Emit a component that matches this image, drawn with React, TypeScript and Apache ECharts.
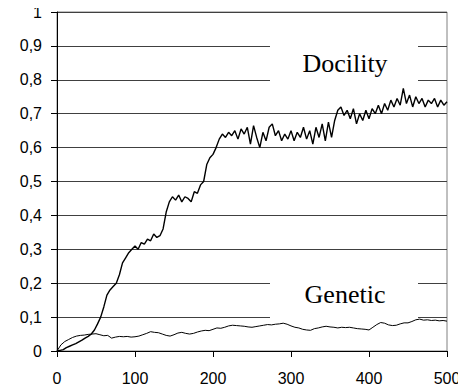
import React, { useEffect, useRef } from "react";
import * as echarts from "echarts";

// Docility series, sampled every 4 generations (0..500)
const docilityStep = 4;
const docility = [
  0, 0.002, 0.004, 0.01, 0.014, 0.018, 0.022, 0.027, 0.032, 0.038,
  0.043, 0.05, 0.062, 0.08, 0.1, 0.13, 0.165, 0.18, 0.19, 0.2,
  0.225, 0.26, 0.275, 0.29, 0.3, 0.31, 0.3, 0.32, 0.315, 0.33,
  0.325, 0.345, 0.335, 0.34, 0.36, 0.41, 0.44, 0.455, 0.445, 0.46,
  0.44, 0.455, 0.45, 0.44, 0.47, 0.465, 0.49, 0.5, 0.55, 0.57,
  0.58, 0.6, 0.625, 0.64, 0.63, 0.645, 0.635, 0.65, 0.625, 0.655,
  0.64, 0.66, 0.61, 0.665, 0.63, 0.6, 0.645, 0.62, 0.66, 0.67,
  0.635, 0.65, 0.62, 0.64, 0.625, 0.65, 0.62, 0.645, 0.63, 0.66,
  0.625, 0.65, 0.61, 0.66, 0.63, 0.67, 0.62, 0.675, 0.63, 0.68,
  0.71, 0.72, 0.695, 0.71, 0.685, 0.715, 0.67, 0.7, 0.68, 0.71,
  0.685, 0.715, 0.7, 0.725, 0.7, 0.73, 0.71, 0.74, 0.72, 0.745,
  0.725, 0.775, 0.73, 0.755, 0.72, 0.75, 0.73, 0.745, 0.72, 0.74,
  0.73, 0.745, 0.72, 0.74, 0.725, 0.735,
];

// Genetic series, sampled every 5 generations (0..500)
const geneticStep = 5;
const genetic = [
  0, 0.018, 0.028, 0.034, 0.04, 0.044, 0.046, 0.047, 0.049, 0.05,
  0.051, 0.048, 0.045, 0.046, 0.038, 0.041, 0.043, 0.042, 0.043, 0.041,
  0.042, 0.044, 0.048, 0.052, 0.057, 0.055, 0.054, 0.05, 0.046, 0.044,
  0.048, 0.053, 0.055, 0.052, 0.05, 0.052, 0.056, 0.059, 0.061, 0.06,
  0.064, 0.068, 0.067, 0.07, 0.074, 0.076, 0.075, 0.074, 0.073, 0.071,
  0.07, 0.072, 0.074, 0.076, 0.078, 0.077, 0.079, 0.08, 0.082, 0.079,
  0.074, 0.07, 0.068, 0.064, 0.062, 0.061, 0.066, 0.068, 0.071, 0.073,
  0.071, 0.07, 0.068, 0.07, 0.069, 0.07, 0.068, 0.066, 0.065, 0.064,
  0.062, 0.07, 0.078, 0.084, 0.082, 0.077, 0.075, 0.076, 0.08, 0.083,
  0.083, 0.087, 0.092, 0.094, 0.091, 0.092, 0.09, 0.091, 0.089, 0.09,
  0.088,
];

const labelDocility = "Docility";
const labelGenetic = "Genetic";

const SANS = "Liberation Sans";
const SERIF = "Liberation Serif";

export default function App() {
  const ref = useRef<HTMLDivElement>(null);
  useEffect(() => {
    if (!ref.current) return;
    const chart = echarts.init(ref.current, undefined, { renderer: "svg" });
    const tickFont = { fontFamily: SANS, fontSize: 16, color: "#000" };
    chart.setOption({
      animation: false,
      backgroundColor: "#fff",
      grid: {
        left: 57,
        right: 19,
        top: 12,
        bottom: 41,
        show: true,
        borderColor: "#808080",
        borderWidth: 1,
        backgroundColor: "transparent",
      },
      xAxis: {
        type: "value",
        min: 0,
        max: 500,
        interval: 100,
        axisLine: { show: true, onZero: false, lineStyle: { color: "#000", width: 1 } },
        axisTick: { show: true, length: 6, lineStyle: { color: "#000" } },
        axisLabel: { ...tickFont, margin: 19 },
        splitLine: { show: false },
      },
      yAxis: {
        type: "value",
        min: 0,
        max: 1,
        interval: 0.1,
        axisLine: { show: true, lineStyle: { color: "#000", width: 1 } },
        axisTick: { show: true, length: 6, inside: false, lineStyle: { color: "#000" } },
        axisLabel: {
          ...tickFont,
          margin: 15,
          formatter: (v: number) => {
            const r = Math.round(v * 10) / 10;
            return String(r).replace(".", ",");
          },
        },
        splitLine: { show: true, lineStyle: { color: "#404040", width: 1 } },
      },
      graphic: [
        {
          type: "rect",
          z: 1,
          shape: { x: 270, y: 28, width: 148, height: 58 },
          style: { fill: "#fff" },
        },
        {
          type: "rect",
          z: 1,
          shape: { x: 270, y: 266, width: 148, height: 53 },
          style: { fill: "#fff" },
        },
        {
          type: "text",
          z: 1,
          x: 345,
          y: 63,
          style: {
            text: labelDocility,
            fontFamily: SERIF,
            fontSize: 26,
            fill: "#000",
            textAlign: "center",
            textVerticalAlign: "middle",
          },
        },
        {
          type: "text",
          z: 1,
          x: 345,
          y: 294,
          style: {
            text: labelGenetic,
            fontFamily: SERIF,
            fontSize: 26,
            fill: "#000",
            textAlign: "center",
            textVerticalAlign: "middle",
          },
        },
      ],
      series: [
        {
          type: "line",
          name: labelDocility,
          z: 3,
          showSymbol: false,
          symbol: "none",
          data: docility.map((v, i) => [i * docilityStep, v]),
          lineStyle: { color: "#000", width: 1.4 },
        },
        {
          type: "line",
          name: labelGenetic,
          z: 3,
          showSymbol: false,
          symbol: "none",
          data: genetic.map((v, i) => [i * geneticStep, v]),
          lineStyle: { color: "#000", width: 1 },
        },
      ],
    });
    return () => chart.dispose();
  }, []);
  return <div ref={ref} style={{ width: 466, height: 392, margin: -8 }} />;
}
